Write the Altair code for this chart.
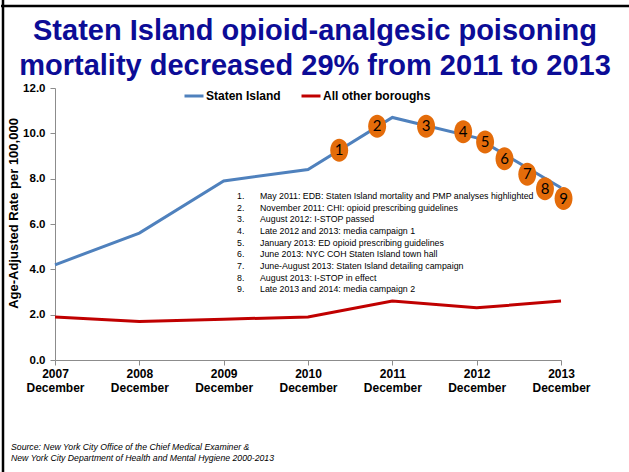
import altair as alt
import pandas as pd

# Annual age-adjusted opioid-analgesic poisoning death rates (per 100,000)
years = [2007, 2008, 2009, 2010, 2011, 2012, 2013]
staten_island = [4.2, 5.6, 7.9, 8.4, 10.7, 9.8, 7.6]
other_boroughs = [1.9, 1.7, 1.8, 1.9, 2.6, 2.3, 2.6]
series_names = ["Staten Island", "All other boroughs"]
series_colors = ["#4F81BD", "#C00000"]
month_label = "December"

# Numbered interventions placed along the Staten Island trend
event_numbers = ["1", "2", "3", "4", "5", "6", "7", "8", "9"]
event_time = [2010.37, 2010.82, 2011.40, 2011.84, 2012.10, 2012.33, 2012.60, 2012.81, 2013.03]
event_rate = [9.25, 10.31, 10.31, 10.07, 9.62, 8.88, 8.19, 7.56, 7.12]
event_notes = [
    "May 2011: EDB: Staten Island mortality and PMP analyses highlighted",
    "November 2011: CHI: opioid prescribing guidelines",
    "August 2012: I-STOP passed",
    "Late 2012 and 2013: media campaign 1",
    "January 2013: ED opioid prescribing guidelines",
    "June 2013: NYC COH Staten Island town hall",
    "June-August 2013: Staten Island detailing campaign",
    "August 2013: I-STOP in effect",
    "Late 2013 and 2014: media campaign 2",
]

title_lines = [
    "Staten Island opioid-analgesic poisoning",
    "mortality decreased 29% from 2011 to 2013",
]
source_lines = [
    "Source: New York City Office of the Chief Medical Examiner &",
    "New York City Department of Health and Mental Hygiene 2000-2013",
]
y_title = "Age-Adjusted Rate per 100,000"

FONT = "Liberation Sans"
W, H = 506, 272
PAD = {"left": 55, "top": 88, "right": 68, "bottom": 112}

rows = []
for name, vals in zip(series_names, [staten_island, other_boroughs]):
    for yr, v in zip(years, vals):
        rows.append({"year": yr, "rate": v, "series": name})
lines_df = pd.DataFrame(rows)

events_df = pd.DataFrame({"num": event_numbers, "t": event_time, "r": event_rate})

x_scale = alt.Scale(domain=[years[0], years[-1]], nice=False, zero=False)
y_scale = alt.Scale(domain=[0, 12], nice=False)

x_axis = alt.Axis(
    values=years,
    labelExpr=f"[format(datum.value, 'd'), '{month_label}']",
    labelFont=FONT, labelFontSize=12, labelFontWeight="bold", labelColor="black",
    labelLineHeight=14, labelPadding=3, labelBaseline="top",
    domainColor="#8C8C8C", tickColor="#8C8C8C", tickSize=5, grid=False,
    labelOverlap=False, labelFlush=False,
)
y_axis = alt.Axis(
    values=[0, 2, 4, 6, 8, 10, 12], format=".1f",
    labelFont=FONT, labelFontSize=11.5, labelFontWeight="bold", labelColor="black",
    labelPadding=5, domainColor="#8C8C8C", tickColor="#8C8C8C", tickSize=5, grid=False,
    title=y_title, titleFont=FONT, titleFontSize=13, titleFontWeight="bold",
    titleColor="black", titleAngle=-90, titleX=-42, titleY=125,
    titleAlign="center", titleBaseline="middle",
)

lines = alt.Chart(lines_df).mark_line(strokeWidth=3).encode(
    x=alt.X("year:Q", scale=x_scale, axis=x_axis, title=None),
    y=alt.Y("rate:Q", scale=y_scale, axis=y_axis),
    color=alt.Color(
        "series:N",
        scale=alt.Scale(domain=series_names, range=series_colors),
        legend=alt.Legend(
            orient="none", legendX=128, legendY=-3, direction="horizontal", title=None,
            symbolType="stroke", symbolStrokeWidth=3, symbolSize=361,
            labelFont=FONT, labelFontSize=12, labelFontWeight="bold", labelColor="black",
            labelOffset=1, columnPadding=14, padding=0,
        ),
    ),
    detail="series:N",
)

ellipse = "M -0.78 0 A 0.78 1 0 1 0 0.78 0 A 0.78 1 0 1 0 -0.78 0 Z"
markers = alt.Chart(events_df).mark_point(
    shape=ellipse, size=529, filled=True, color="#E46C0A", opacity=1
).encode(
    x=alt.X("t:Q", scale=x_scale),
    y=alt.Y("r:Q", scale=y_scale),
)
marker_nums = alt.Chart(events_df).mark_text(
    font="Lato", fontSize=15, color="black", baseline="middle", align="center", dy=0
).encode(
    x=alt.X("t:Q", scale=x_scale),
    y=alt.Y("r:Q", scale=y_scale),
    text="num:N",
)

one = pd.DataFrame({"k": [0]})

# Multi-line texts: the first line sits at the given y, following lines go down
title = alt.Chart(one).mark_text(
    text=title_lines, font=FONT, fontSize=29, fontWeight="bold", color="#0C0C96",
    align="center", baseline="middle", lineHeight=35,
).encode(x=alt.value(260), y=alt.value(-57))

note_nums = alt.Chart(one).mark_text(
    text=[f"{n}." for n in event_numbers], font=FONT, fontSize=8.8, color="black",
    align="left", baseline="middle", lineHeight=11.65,
).encode(x=alt.value(182), y=alt.value(108))

notes = alt.Chart(one).mark_text(
    text=event_notes, font=FONT, fontSize=8.8, color="black",
    align="left", baseline="middle", lineHeight=11.65,
).encode(x=alt.value(205), y=alt.value(108))

source = alt.Chart(one).mark_text(
    text=source_lines, font=FONT, fontSize=8.7, fontStyle="italic", color="black",
    align="left", baseline="middle", lineHeight=11,
).encode(x=alt.value(-44), y=alt.value(358.5))

# Slide frame: left and top edges
frame_left = alt.Chart(one).mark_rule(color="black", strokeWidth=2.5).encode(
    x=alt.value(-52), y=alt.value(-88), y2=alt.value(384)
)
frame_top = alt.Chart(one).mark_rule(color="black", strokeWidth=2.5).encode(
    y=alt.value(-82), x=alt.value(-54), x2=alt.value(574)
)

chart = alt.layer(
    lines, markers, marker_nums, title, note_nums, notes, source, frame_left, frame_top
).properties(
    width=W, height=H, padding=PAD,
    autosize=alt.AutoSizeParams(type="none"),
    background="white",
).configure_view(stroke=None)

chart.save("out.html", embed_options={"renderer": "svg", "actions": False})
